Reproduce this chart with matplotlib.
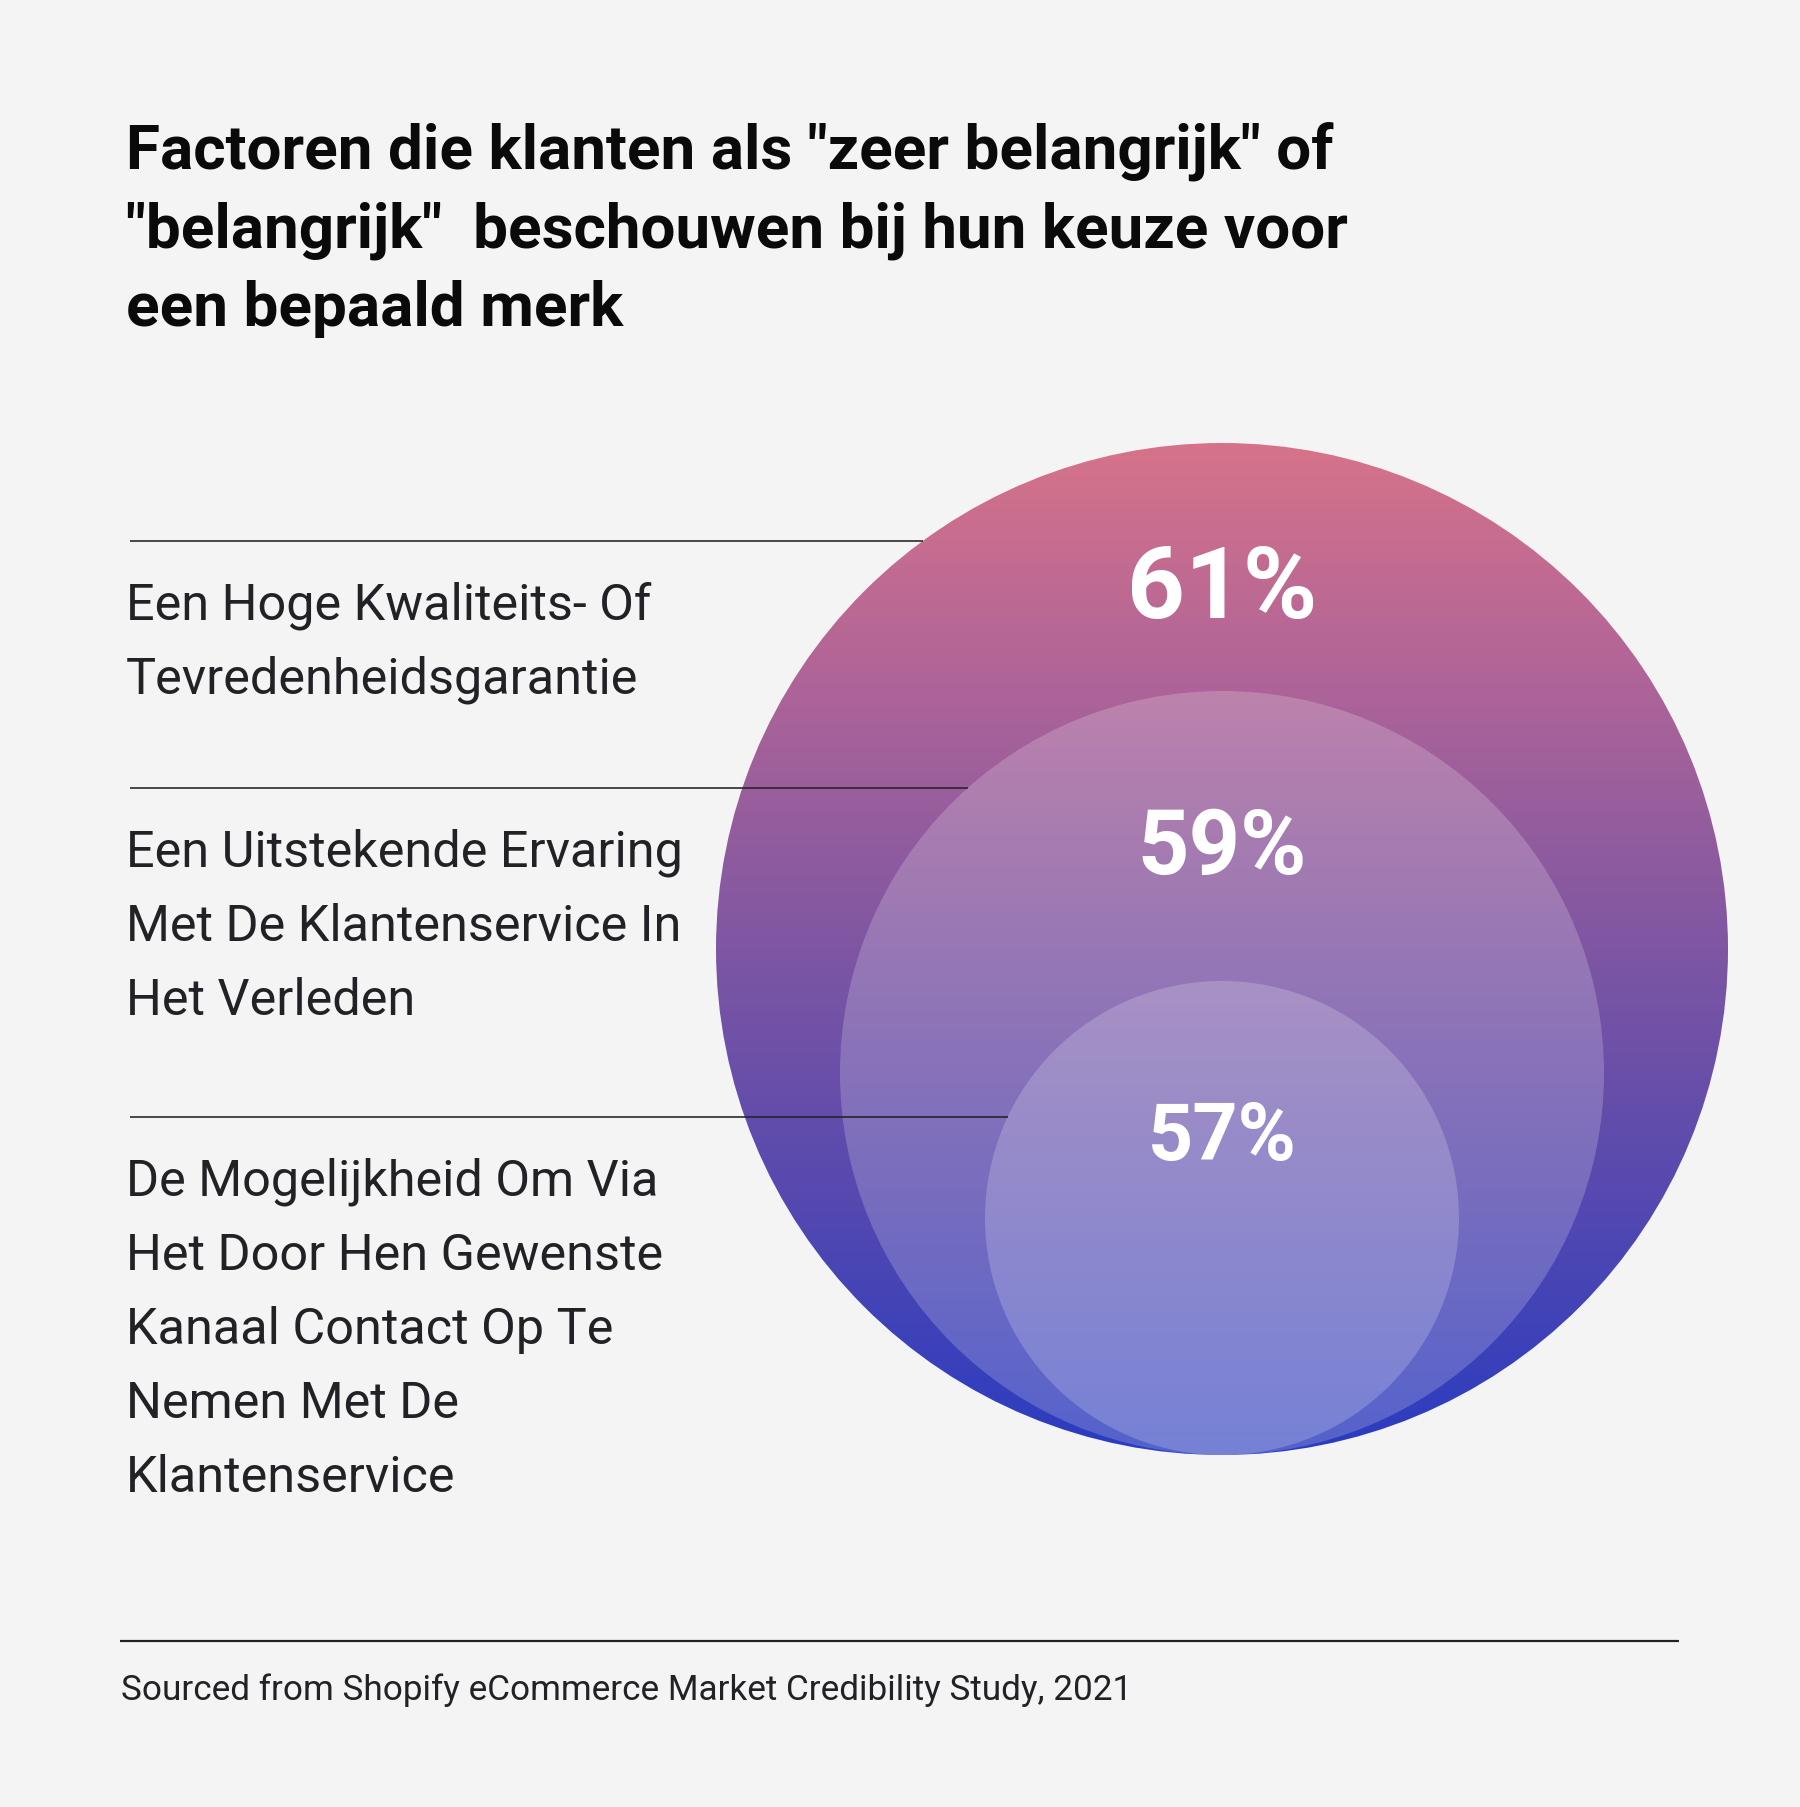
import numpy as np
import matplotlib
matplotlib.use('Agg')
import matplotlib.pyplot as plt
from matplotlib.patches import Circle
from matplotlib.colors import LinearSegmentedColormap

# ---------------- data ----------------
title_lines = ['Factoren die klanten als "zeer belangrijk" of',
               '"belangrijk"  beschouwen bij hun keuze voor',
               'een bepaald merk']
categories = [
    ['Een Hoge Kwaliteits- Of', 'Tevredenheidsgarantie'],
    ['Een Uitstekende Ervaring', 'Met De Klantenservice In', 'Het Verleden'],
    ['De Mogelijkheid Om Via', 'Het Door Hen Gewenste', 'Kanaal Contact Op Te',
     'Nemen Met De', 'Klantenservice'],
]
values = [61, 59, 57]
source = 'Sourced from Shopify eCommerce Market Credibility Study, 2021'

# ---------------- style / layout ----------------
W, H = 1800, 1808
BG = '#f4f4f4'
TXT = '#222226'
cx, bottom = 1222, 1456
radii = [506, 382, 237]
label_line_y = [542, 789, 1118]
pct_px = [101, 90, 79]
pct_offset = [174, 182, 178]   # baseline below circle top
grad_stops = [(0.0, '#d6738a'), (0.2, '#b56696'), (0.5, '#7e56a3'),
              (0.72, '#5a4aae'), (1.0, '#2a3cc0')]

PT = 0.72  # px -> pt at dpi 100

fig = plt.figure(figsize=(18, 18.08), dpi=100)
fig.patch.set_facecolor(BG)
ax = fig.add_axes([0, 0, 1, 1])
ax.set_xlim(0, W)
ax.set_ylim(H, 0)
ax.axis('off')
ax.set_facecolor(BG)

# ---- big gradient circle ----
r0 = radii[0]
cy0 = bottom - r0
cmap = LinearSegmentedColormap.from_list('g', grad_stops)
grad = np.linspace(0, 1, 600)[:, None]
im = ax.imshow(grad, cmap=cmap, aspect='auto', origin='upper',
               extent=(cx - r0, cx + r0, bottom, bottom - 2 * r0),
               interpolation='bilinear', zorder=1)
clip = Circle((cx, cy0), r0, transform=ax.transData, facecolor='none', edgecolor='none')
ax.add_patch(clip)
im.set_clip_path(clip)

# ---- inner translucent circles ----
for r in radii[1:]:
    ax.add_patch(Circle((cx, bottom - r), r, facecolor='white', alpha=0.2,
                        edgecolor='none', zorder=2))

# ---- percentages ----
for v, r, px, off in zip(values, radii, pct_px, pct_offset):
    top = bottom - 2 * r
    ax.text(cx, top + off, f'{v}%', ha='center', va='baseline', color='white',
            fontsize=px * PT, fontweight='bold', family='Roboto', zorder=5)

# ---- leader lines & labels ----
fig.canvas.draw()
renderer = fig.canvas.get_renderer()

def fit(t, target):
    bb = t.get_window_extent(renderer)
    t.set_fontsize(t.get_fontsize() * target / bb.width)
    return t.get_fontsize()

probe = ax.text(0, 0, categories[0][0], fontsize=36, family='Roboto')
lab_fs = fit(probe, 525)
probe.remove()

for lines, ly, r in zip(categories, label_line_y, radii):
    cyy = bottom - r
    dx = np.sqrt(r ** 2 - (cyy - ly) ** 2)
    ax.plot([130, cx - dx], [ly, ly], color=TXT, lw=1.6 * PT, solid_capstyle='butt', zorder=3)
    for i, s in enumerate(lines):
        ax.text(126, ly + 78 + 74 * i, s, ha='left', va='baseline', color=TXT,
                fontsize=lab_fs, family='Roboto')

# ---- title ----
t0 = ax.text(126, 170, title_lines[0], ha='left', va='baseline', color='#0a0a0a',
             fontsize=50, fontweight='bold', family='Roboto')
tfs = fit(t0, 1207)
for i, s in enumerate(title_lines[1:], start=1):
    ax.text(126, 170 + 78 * i, s, ha='left', va='baseline', color='#0a0a0a',
            fontsize=tfs, fontweight='bold', family='Roboto')

# ---- footer ----
ax.plot([120, 1679], [1642, 1642], color=TXT, lw=2.2 * PT, solid_capstyle='butt')
ft = ax.text(121, 1700, source, ha='left', va='baseline', color=TXT,
             fontsize=26, family='Roboto')
fit(ft, 1013)

fig.savefig('out.png', dpi=100, facecolor=BG)
